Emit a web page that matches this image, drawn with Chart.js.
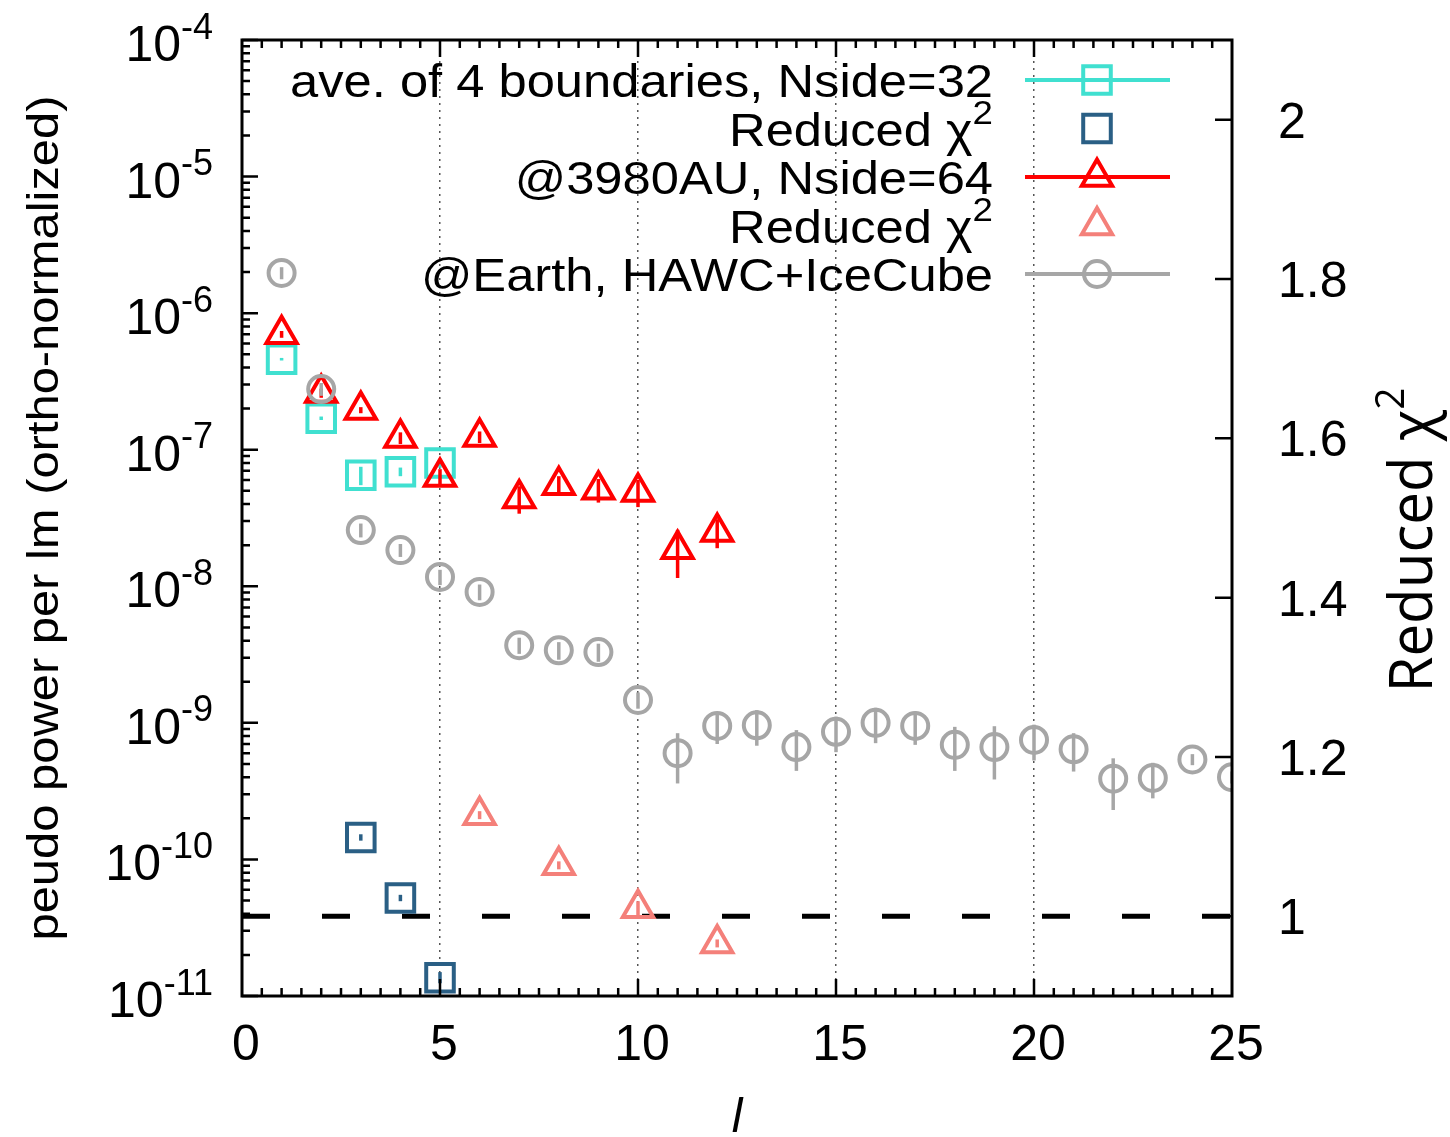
<!DOCTYPE html>
<html>
<head>
<meta charset="utf-8">
<script src="https://cdn.jsdelivr.net/npm/chart.js@4/dist/chart.umd.min.js"></script>
<style>
  html, body { margin: 0; padding: 0; background: #fff; }
  canvas { display: block; }
</style>
</head>
<body>
<canvas id="chart" width="1450" height="1137"></canvas>
<script>
// ave. of 4 boundaries, Nside=32
const aveL = [1, 2, 3, 4, 5];
const avePower = [4.6e-7, 1.7e-7, 6.5e-8, 6.9e-8, 8.0e-8];
const aveErr = [1.0e-8, 5e-9, 1.0e-8, 5e-9, 6e-9];
const aveChiL = [3, 4, 5];
const aveChi = [1.099, 1.023, 0.923];
const aveChiErr = [0.004, 0.004, 0.007];

// @3980AU, Nside=64
const auL = [1, 2, 3, 4, 5, 6, 7, 8, 9, 10, 11, 12];
const auPower = [7.0e-7, 2.6e-7, 1.95e-7, 1.22e-7, 6.3e-8, 1.24e-7, 4.4e-8, 5.5e-8, 5.1e-8, 4.9e-8, 1.87e-8, 2.5e-8];
const auErr = [4e-8, 2e-8, 1.0e-8, 1.2e-8, 9e-9, 1.2e-8, 1.0e-8, 9e-9, 1.0e-8, 1.1e-8, 7.2e-9, 6e-9];
const auChiL = [6, 8, 10, 12];
const auChi = [1.127, 1.064, 1.010, 0.966];
const auChiErr = [0.005, 0.005, 0.009, 0.005];

// @Earth, HAWC+IceCube
const earthL = [1, 2, 3, 4, 5, 6, 7, 8, 9, 10, 11, 12, 13, 14, 15, 16, 17, 18, 19, 20, 21, 22, 23, 24, 25];
const earthPower = [1.97e-6, 2.78e-7, 2.58e-8, 1.84e-8, 1.17e-8, 9.1e-9, 3.7e-9, 3.4e-9, 3.3e-9, 1.47e-9,
  6.0e-10, 9.5e-10, 9.6e-10, 6.65e-10, 8.6e-10, 1.0e-9, 9.5e-10, 6.9e-10, 6.65e-10, 7.5e-10,
  6.4e-10, 3.9e-10, 3.95e-10, 5.4e-10, 4.0e-10];
const earthErr = [2e-7, 3e-8, 3e-9, 2e-9, 1.5e-9, 1.2e-9, 5e-10, 5e-10, 5e-10, 2e-10,
  2.4e-10, 2.5e-10, 2.8e-10, 2.2e-10, 2.5e-10, 2.9e-10, 2.6e-10, 2.45e-10, 2.8e-10, 2.2e-10,
  2.0e-10, 1.6e-10, 1.15e-10, 5e-11, 4e-11];

// reduced chi^2 = 1 reference
const unityL = [0, 25];
const unityChi = [1, 1];

// axes
const xTicks = [0, 5, 10, 15, 20, 25];
const yExponents = [-4, -5, -6, -7, -8, -9, -10, -11];
const y2Ticks = [1, 1.2, 1.4, 1.6, 1.8, 2];
const y2Labels = ['1', '1.2', '1.4', '1.6', '1.8', '2'];

const seriesNames = ['ave. of 4 boundaries, Nside=32', 'Reduced \u03c7', '@3980AU, Nside=64', 'Reduced \u03c7', '@Earth, HAWC+IceCube'];
const seriesSup = ['', '2', '', '2', ''];

const FONT = '"Liberation Sans", Arial, sans-serif';
const CYAN = '#40e0d0';
const STEEL = '#2a5f85';
const RED = '#ff0000';
const SALMON = '#f4807a';
const GRAY = '#a6a6a6';

function series(label, xs, ys, errs, axis, style, color, radius) {
  return {
    type: 'scatter',
    label,
    data: xs.map((x, i) => ({ x, y: ys[i] })),
    errorBars: errs,
    yAxisID: axis,
    pointStyle: style,
    pointRadius: radius,
    pointHoverRadius: radius,
    borderColor: color,
    backgroundColor: 'rgba(0,0,0,0)',
    borderWidth: 4,
    showLine: false
  };
}

const datasets = [
  {
    type: 'line',
    label: 'unity',
    data: unityL.map((x, i) => ({ x, y: unityChi[i] })),
    yAxisID: 'y2',
    borderColor: '#000',
    borderWidth: 5,
    borderDash: [28, 52],
    pointRadius: 0,
    fill: false
  },
  series(seriesNames[0], aveL, avePower, aveErr, 'y', 'rect', CYAN, 19.5),
  series(seriesNames[1], aveChiL, aveChi, aveChiErr, 'y2', 'rect', STEEL, 19.5),
  series(seriesNames[2], auL, auPower, auErr, 'y', 'triangle', RED, 17.5),
  series(seriesNames[3], auChiL, auChi, auChiErr, 'y2', 'triangle', SALMON, 17.5),
  series(seriesNames[4], earthL, earthPower, earthErr, 'y', 'circle', GRAY, 13)
];
datasets.forEach((d, i) => { d.order = 10 - i; });
datasets[0].order = 20;

function drawMarker(ctx, style, x, y, r) {
  ctx.beginPath();
  if (style === 'rect') {
    const s = r * Math.SQRT1_2;
    ctx.rect(x - s, y - s, 2 * s, 2 * s);
  } else if (style === 'triangle') {
    ctx.moveTo(x, y - r);
    ctx.lineTo(x + r * Math.sin(2 * Math.PI / 3), y + r / 2);
    ctx.lineTo(x - r * Math.sin(2 * Math.PI / 3), y + r / 2);
    ctx.closePath();
  } else {
    ctx.arc(x, y, r, 0, Math.PI * 2);
  }
  ctx.stroke();
}

// text with a raised exponent; y is the baseline
function supText(ctx, base, sup, x, y, align, size, squeeze) {
  const k = squeeze || 1;
  const supSize = Math.round(size * 0.72);
  ctx.font = size + 'px ' + FONT;
  const wb = ctx.measureText(base).width * k;
  ctx.font = supSize + 'px ' + FONT;
  const ws = ctx.measureText(sup).width * k;
  let x0 = x;
  if (align === 'right') x0 = x - wb - ws;
  if (align === 'center') x0 = x - (wb + ws) / 2;
  ctx.textAlign = 'left';
  ctx.textBaseline = 'alphabetic';
  ctx.save();
  ctx.translate(x0, y);
  ctx.scale(k, 1);
  ctx.font = size + 'px ' + FONT;
  ctx.fillText(base, 0, 0);
  if (sup) {
    ctx.font = supSize + 'px ' + FONT;
    ctx.fillText(sup, wb / k, -size * 0.45);
  }
  ctx.restore();
}

const errorBarPlugin = {
  id: 'errorBars',
  afterDatasetDraw(chart, args) {
    const ds = chart.data.datasets[args.index];
    if (!ds.errorBars) return;
    const { ctx, chartArea: a } = chart;
    const ys = chart.scales[ds.yAxisID];
    const xs = chart.scales.x;
    ctx.save();
    ctx.beginPath();
    ctx.rect(a.left, a.top, a.right - a.left, a.bottom - a.top);
    ctx.clip();
    ctx.strokeStyle = ds.borderColor;
    ctx.lineWidth = 3.5;
    ds.data.forEach((p, i) => {
      const e = ds.errorBars[i];
      const px = xs.getPixelForValue(p.x);
      const lo = Math.max(p.y - e, 1e-13);
      ctx.beginPath();
      ctx.moveTo(px, ys.getPixelForValue(p.y + e));
      ctx.lineTo(px, ys.getPixelForValue(lo));
      ctx.stroke();
    });
    ctx.restore();
  }
};

const framePlugin = {
  id: 'gnuplotFrame',
  afterDraw(chart) {
    const { ctx, chartArea: a, scales: { x, y, y2 } } = chart;
    ctx.save();
    ctx.strokeStyle = '#000';
    ctx.lineWidth = 2.5;
    ctx.beginPath();
    // x ticks, bottom and top
    for (let v = 0.5; v < 25; v += 0.5) {
      const px = x.getPixelForValue(v);
      const len = v % 5 === 0 ? 17 : 8;
      ctx.moveTo(px, a.bottom); ctx.lineTo(px, a.bottom - len);
      ctx.moveTo(px, a.top); ctx.lineTo(px, a.top + len);
    }
    // left log ticks
    yExponents.forEach((e) => {
      const py = y.getPixelForValue(Math.pow(10, e));
      ctx.moveTo(a.left, py); ctx.lineTo(a.left + 16, py);
      if (e > -11) {
        for (let m = 2; m <= 9; m++) {
          const pm = y.getPixelForValue(m * Math.pow(10, e - 1));
          ctx.moveTo(a.left, pm); ctx.lineTo(a.left + 8, pm);
        }
      }
    });
    // right ticks
    y2Ticks.forEach((v) => {
      const py = y2.getPixelForValue(v);
      ctx.moveTo(a.right, py); ctx.lineTo(a.right - 17, py);
    });
    ctx.stroke();
    // frame
    ctx.lineWidth = 3;
    ctx.strokeRect(a.left, a.top, a.right - a.left, a.bottom - a.top);

    ctx.fillStyle = '#000';
    // tick labels
    xTicks.forEach((v) => {
      supText(ctx, String(v), '', x.getPixelForValue(v) + 4, a.bottom + 64, 'center', 50);
    });
    yExponents.forEach((e) => {
      const py = y.getPixelForValue(Math.pow(10, e));
      supText(ctx, '10', String(e), a.left - 29, py + 21, 'right', 50);
    });
    y2Ticks.forEach((v, i) => {
      const py = y2.getPixelForValue(v);
      supText(ctx, y2Labels[i], '', a.right + 46, py + 18, 'left', 50);
    });

    // axis titles
    ctx.save();
    ctx.translate(58, (a.top + a.bottom) / 2);
    ctx.rotate(-Math.PI / 2);
    ctx.font = '44px ' + FONT;
    const yTitle = 'peudo power per lm (ortho-normalized)';
    const kY = 845 / ctx.measureText(yTitle).width;
    ctx.scale(kY, 1);
    ctx.textAlign = 'center';
    ctx.textBaseline = 'alphabetic';
    ctx.fillText(yTitle, 0, 0);
    ctx.restore();

    ctx.save();
    ctx.translate(1432, 540);
    ctx.rotate(-Math.PI / 2);
    ctx.font = '60px "Liberation Sans Narrow", "Open Sans", sans-serif';
    const wR = ctx.measureText('Reduced \u03c7').width;
    ctx.font = '40px "Liberation Sans Narrow", "Open Sans", sans-serif';
    const wR2 = ctx.measureText('2').width;
    const kR = 305 / (wR + wR2);
    ctx.scale(kR, 1);
    ctx.textAlign = 'left';
    ctx.font = '60px "Liberation Sans Narrow", "Open Sans", sans-serif';
    ctx.fillText('Reduced \u03c7', -(wR + wR2) / 2, 0);
    ctx.font = '40px "Liberation Sans Narrow", "Open Sans", sans-serif';
    ctx.fillText('2', -(wR + wR2) / 2 + wR, -28);
    ctx.restore();

    ctx.font = 'italic 48px ' + FONT;
    ctx.textAlign = 'center';
    ctx.fillText('l', (a.left + a.right) / 2, 1132);

    // legend
    ctx.font = '47px ' + FONT;
    const kL = 703 / ctx.measureText(seriesNames[0]).width;
    const lined = [true, false, true, false, true];
    chart.data.datasets.slice(1).forEach((ds, i) => {
      const cy = 80 + i * 48.5;
      ctx.fillStyle = '#000';
      supText(ctx, seriesNames[i], seriesSup[i], 993, cy + 17, 'right', 47, kL);
      ctx.strokeStyle = ds.borderColor;
      ctx.lineWidth = 4;
      if (lined[i]) {
        ctx.beginPath();
        ctx.moveTo(1025, cy); ctx.lineTo(1170, cy);
        ctx.stroke();
      }
      drawMarker(ctx, ds.pointStyle, 1097, cy, ds.pointRadius);
    });
    ctx.restore();
  }
};

new Chart(document.getElementById('chart'), {
  data: { datasets },
  options: {
    responsive: false,
    animation: false,
    events: [],
    layout: { padding: { top: 40, left: 0, right: 0, bottom: 0 } },
    plugins: { legend: { display: false }, tooltip: { enabled: false } },
    scales: {
      x: {
        type: 'linear', min: 0, max: 25,
        ticks: { display: false, stepSize: 5 },
        grid: {
          drawTicks: false,
          lineWidth: 1.5,
          color: (c) => (c.tick && c.tick.value > 0 && c.tick.value < 25 ? '#555' : 'rgba(0,0,0,0)')
        },
        border: { display: false, dash: [2, 5] },
        afterFit: (s) => { s.height = 141; }
      },
      y: {
        type: 'logarithmic', position: 'left', min: 1e-11, max: 1e-4,
        ticks: { display: false },
        grid: { display: false },
        border: { display: false },
        afterFit: (s) => { s.width = 242; }
      },
      y2: {
        type: 'linear', position: 'right', min: 0.9, max: 2.1,
        ticks: { display: false },
        grid: { display: false },
        border: { display: false },
        afterFit: (s) => { s.width = 218; }
      }
    }
  },
  plugins: [errorBarPlugin, framePlugin]
});
</script>
</body>
</html>
